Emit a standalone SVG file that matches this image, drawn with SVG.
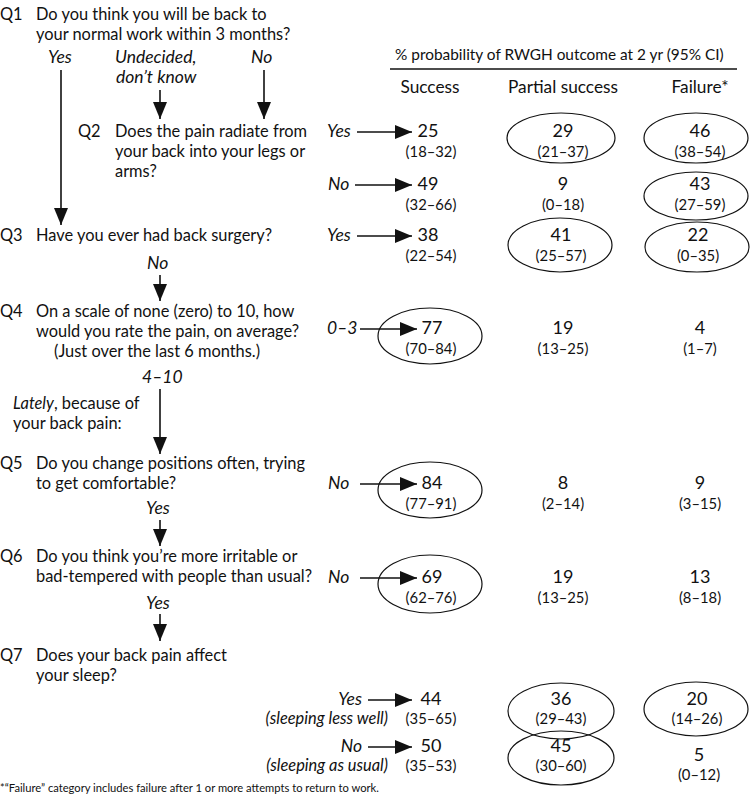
<svg xmlns="http://www.w3.org/2000/svg" width="750" height="797" viewBox="0 0 750 797">
<style>
text{font-family:Lato,"Open Sans","Liberation Sans",sans-serif;fill:#111;font-size:16.4px}
.i{font-style:italic;font-size:17.5px}
.m{text-anchor:middle;font-size:17.3px}
.ci{font-size:14.8px;text-anchor:middle}
.n{font-size:18px;text-anchor:middle}
.h{font-size:15.4px}
.fn{font-size:11.2px}
.c{fill:none;stroke:#111;stroke-width:1.6}
.e{fill:none;stroke:#111;stroke-width:1.2}
</style>
<defs>
<marker id="ah" markerUnits="userSpaceOnUse" markerWidth="18" markerHeight="16" refX="17" refY="7" orient="auto">
<path d="M0,0 L17,7 L0,14 z" fill="#111"/>
</marker>
</defs>
<rect width="750" height="797" fill="#fff"/>

<g id="q1"><text x="0" y="20">Q1</text><text x="36" y="20">Do you think you will be back to</text><text x="36" y="40">your normal work within 3 months?</text></g>
<g id="a1-yes"><text x="48" y="63" class="i">Yes</text></g>
<g id="a1-und"><text x="115" y="63" class="i">Undecided,</text><text x="116" y="83" class="i">don’t know</text></g>
<g id="a1-no"><text x="251" y="63" class="i">No</text></g>

<g id="header"><text x="395" y="60" class="h">% probability of RWGH outcome at 2 yr (95% CI)</text><line x1="390" y1="69" x2="737" y2="69" stroke="#111" stroke-width="1.3"/>
<text x="430" y="93" class="m">Success</text><text x="563" y="93" class="m">Partial success</text><text x="700" y="93" class="m">Failure*</text></g>

<g id="q2"><text x="78" y="137">Q2</text><text x="115" y="137">Does the pain radiate from</text><text x="115" y="157">your back into your legs or</text><text x="115" y="177">arms?</text></g>
<g id="a2-yes"><text x="327" y="137" class="i">Yes</text></g>
<g id="r2y-s"><text x="428" y="137" class="n">25</text><text x="431" y="157" class="ci">(18–32)</text></g>
<g id="r2y-p"><ellipse cx="561" cy="138" rx="54" ry="25" class="e"/><text x="563" y="137" class="n">29</text><text x="563" y="157" class="ci">(21–37)</text></g>
<g id="r2y-f"><ellipse cx="696" cy="138" rx="52" ry="25" class="e"/><text x="700" y="137" class="n">46</text><text x="700" y="157" class="ci">(38–54)</text></g>
<g id="a2-no"><text x="328" y="190" class="i">No</text></g>
<g id="r2n-s"><text x="428" y="190" class="n">49</text><text x="431" y="210" class="ci">(32–66)</text></g>
<g id="r2n-p"><text x="563" y="190" class="n">9</text><text x="563" y="210" class="ci">(0–18)</text></g>
<g id="r2n-f"><ellipse cx="696" cy="196" rx="52" ry="24" class="e"/><text x="700" y="190" class="n">43</text><text x="700" y="210" class="ci">(27–59)</text></g>

<g id="q3"><text x="0" y="241">Q3</text><text x="36" y="241">Have you ever had back surgery?</text></g>
<g id="a3-yes"><text x="327" y="241" class="i">Yes</text></g>
<g id="r3-s"><text x="428" y="241" class="n">38</text><text x="431" y="261" class="ci">(22–54)</text></g>
<g id="r3-p"><ellipse cx="560" cy="245" rx="52" ry="27" class="e"/><text x="561" y="241" class="n">41</text><text x="561" y="261" class="ci">(25–57)</text></g>
<g id="r3-f"><ellipse cx="697" cy="247" rx="52" ry="25" class="e"/><text x="698" y="241" class="n">22</text><text x="698" y="261" class="ci">(0–35)</text></g>
<g id="a3-no"><text x="147" y="269" class="i">No</text></g>

<g id="q4"><text x="0" y="317">Q4</text><text x="36" y="317">On a scale of none (zero) to 10, how</text><text x="36" y="337">would you rate the pain, on average?</text><text x="54" y="357">(Just over the last 6 months.)</text></g>
<g id="a4-03"><text x="327" y="334" class="i">0–3</text></g>
<g id="r4-s"><ellipse cx="430" cy="336" rx="52" ry="28" class="e"/><text x="432" y="334" class="n">77</text><text x="431" y="354" class="ci">(70–84)</text></g>
<g id="r4-p"><text x="563" y="334" class="n">19</text><text x="563" y="354" class="ci">(13–25)</text></g>
<g id="r4-f"><text x="700" y="334" class="n">4</text><text x="700" y="354" class="ci">(1–7)</text></g>
<g id="a4-410"><text x="142" y="383" class="i">4–10</text></g>
<g id="lately"><text x="13" y="409"><tspan class="i" style="font-size:16.4px">Lately</tspan>, because of</text><text x="13" y="429">your back pain:</text></g>

<g id="q5"><text x="0" y="469">Q5</text><text x="36" y="469">Do you change positions often, trying</text><text x="36" y="489">to get comfortable?</text></g>
<g id="a5-no"><text x="328" y="489" class="i">No</text></g>
<g id="r5-s"><ellipse cx="430" cy="490" rx="52" ry="28" class="e"/><text x="432" y="489" class="n">84</text><text x="431" y="509" class="ci">(77–91)</text></g>
<g id="r5-p"><text x="563" y="489" class="n">8</text><text x="563" y="509" class="ci">(2–14)</text></g>
<g id="r5-f"><text x="700" y="489" class="n">9</text><text x="700" y="509" class="ci">(3–15)</text></g>
<g id="a5-yes"><text x="146" y="514" class="i">Yes</text></g>

<g id="q6"><text x="0" y="562">Q6</text><text x="36" y="562">Do you think you’re more irritable or</text><text x="36" y="582">bad-tempered with people than usual?</text></g>
<g id="a6-no"><text x="328" y="583" class="i">No</text></g>
<g id="r6-s"><ellipse cx="430" cy="584" rx="52" ry="29" class="e"/><text x="432" y="583" class="n">69</text><text x="431" y="603" class="ci">(62–76)</text></g>
<g id="r6-p"><text x="563" y="583" class="n">19</text><text x="563" y="603" class="ci">(13–25)</text></g>
<g id="r6-f"><text x="700" y="583" class="n">13</text><text x="700" y="603" class="ci">(8–18)</text></g>
<g id="a6-yes"><text x="146" y="609" class="i">Yes</text></g>

<g id="q7"><text x="0" y="661">Q7</text><text x="36" y="661">Does your back pain affect</text><text x="36" y="681">your sleep?</text></g>
<g id="a7-yes"><text x="362" y="705" class="i" text-anchor="end">Yes</text><text x="388" y="724" class="i" text-anchor="end" style="font-size:16.4px">(sleeping less well)</text></g>
<g id="r7y-s"><text x="431" y="705" class="n">44</text><text x="431" y="724" class="ci">(35–65)</text></g>
<g id="r7y-p"><ellipse cx="561" cy="711" rx="53" ry="28" class="e"/><text x="561" y="705" class="n">36</text><text x="561" y="724" class="ci">(29–43)</text></g>
<g id="r7y-f"><ellipse cx="696" cy="709" rx="52" ry="27" class="e"/><text x="697" y="705" class="n">20</text><text x="697" y="724" class="ci">(14–26)</text></g>
<g id="a7-no"><text x="362" y="752" class="i" text-anchor="end">No</text><text x="388" y="771" class="i" text-anchor="end" style="font-size:16.4px">(sleeping as usual)</text></g>
<g id="r7n-s"><text x="431" y="752" class="n">50</text><text x="431" y="771" class="ci">(35–53)</text></g>
<g id="r7n-p"><ellipse cx="561" cy="758" rx="53" ry="27" class="e"/><text x="561" y="752" class="n">45</text><text x="561" y="771" class="ci">(30–60)</text></g>
<g id="r7n-f"><text x="699" y="761" class="n">5</text><text x="699" y="780" class="ci">(0–12)</text></g>

<g id="footnote"><text x="0" y="792" class="fn">*“Failure” category includes failure after 1 or more attempts to return to work.</text></g>

<g id="connectors" class="c">
<path d="M61,70 V225" class="c" marker-end="url(#ah)"/>
<path d="M160,90 V119" class="c" marker-end="url(#ah)"/>
<path d="M264,70 V119" class="c" marker-end="url(#ah)"/>
<path d="M160,275 V301" class="c" marker-end="url(#ah)"/>
<path d="M160,389 V454" class="c" marker-end="url(#ah)"/>
<path d="M160,520 V546" class="c" marker-end="url(#ah)"/>
<path d="M160,614 V641" class="c" marker-end="url(#ah)"/>
<path d="M357,132 H412" class="c" marker-end="url(#ah)"/>
<path d="M355,185 H412" class="c" marker-end="url(#ah)"/>
<path d="M357,236 H412" class="c" marker-end="url(#ah)"/>
<path d="M360,329 H417" class="c" marker-end="url(#ah)"/>
<path d="M360,484 H417" class="c" marker-end="url(#ah)"/>
<path d="M360,578 H417" class="c" marker-end="url(#ah)"/>
<path d="M368,700 H412" class="c" marker-end="url(#ah)"/>
<path d="M368,747 H412" class="c" marker-end="url(#ah)"/>
</g>
</svg>
